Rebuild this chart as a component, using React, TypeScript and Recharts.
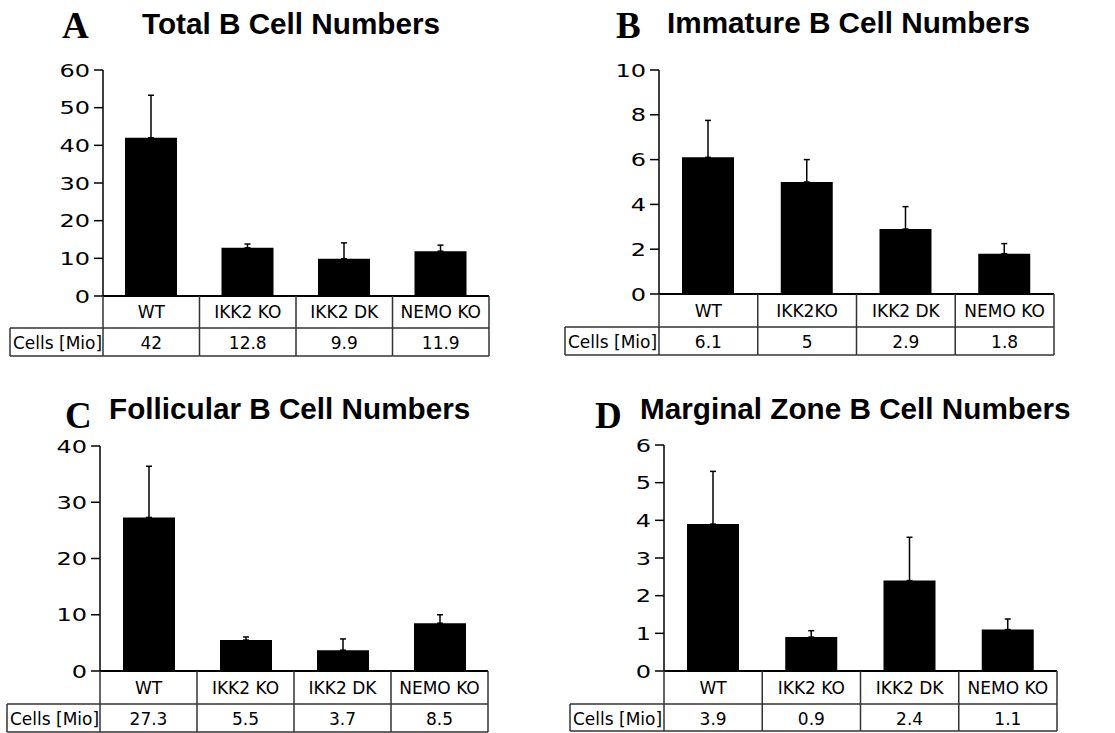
import React from 'react';
import { BarChart, Bar, XAxis, YAxis, ErrorBar } from 'recharts';

// panel A - total B cells
const CATS_A = ['WT', 'IKK2 KO', 'IKK2 DK', 'NEMO KO'];
const VALUES_A = [42, 12.8, 9.9, 11.9];
const ERR_A = [11.3, 1.0, 4.2, 1.6];
const TICKS_A = [0, 10, 20, 30, 40, 50, 60];

// panel B - immature B cells
const CATS_B = ['WT', 'IKK2KO', 'IKK2 DK', 'NEMO KO'];
const VALUES_B = [6.1, 5, 2.9, 1.8];
const ERR_B = [1.65, 1.0, 1.0, 0.45];
const TICKS_B = [0, 2, 4, 6, 8, 10];

// panel C - follicular B cells
const CATS_C = ['WT', 'IKK2 KO', 'IKK2 DK', 'NEMO KO'];
const VALUES_C = [27.3, 5.5, 3.7, 8.5];
const ERR_C = [9.1, 0.55, 2.0, 1.5];
const TICKS_C = [0, 10, 20, 30, 40];

// panel D - marginal zone B cells
const CATS_D = ['WT', 'IKK2 KO', 'IKK2 DK', 'NEMO KO'];
const VALUES_D = [3.9, 0.9, 2.4, 1.1];
const ERR_D = [1.4, 0.17, 1.15, 0.28];
const TICKS_D = [0, 1, 2, 3, 4, 5, 6];

const ROW_HEADER = 'Cells [Mio]';

const SANS = '"DejaVu Sans", Verdana, sans-serif';
const LINE = '#333';

interface Box {
  tableLeft: number;
  plotLeft: number;
  plotRight: number;
  plotTop: number;
  plotBottom: number;
  rowMid: number;
  tableBottom: number;
}

interface PanelProps {
  cats: string[];
  values: number[];
  errs: number[];
  ticks: number[];
  box: Box;
}

const Panel: React.FC<PanelProps> = ({ cats, values, errs, ticks, box }) => {
  const data = cats.map((name, i) => ({
    name,
    value: values[i],
    err: [0, errs[i]],
    label: String(values[i]),
  }));

  const chartLeft = box.tableLeft - 4;
  const chartTop = box.plotTop - 16;
  const width = box.plotRight + 6 - chartLeft;
  const height = box.tableBottom + 4 - chartTop;
  const yAxisW = box.plotLeft - chartLeft;
  const xAxisH = box.tableBottom - box.plotBottom;
  const bw = (box.plotRight - box.plotLeft) / cats.length;

  const y0 = box.plotBottom - chartTop;
  const yMid = box.rowMid - chartTop;
  const yB = box.tableBottom - chartTop;
  const tl = box.tableLeft - chartLeft;

  // the y labels in the original are in a wide face, so stretch them a bit
  const renderYTick = (props: any) => {
    const { x, y, payload } = props;
    return (
      <text
        transform={`translate(${x},${y}) scale(1.3,1)`}
        textAnchor="end"
        dy="0.36em"
        fontSize={18.5}
        fontFamily={SANS}
        fill="#000"
      >
        {payload.value}
      </text>
    );
  };

  // category label + table cell under each bar
  const renderXTick = (props: any) => {
    const { x, index } = props;
    const d = data[index];
    const l = x - bw / 2;
    const r = x + bw / 2;
    return (
      <g>
        <line x1={l} y1={y0} x2={l} y2={yB} stroke={LINE} strokeWidth={1.5} />
        {index === cats.length - 1 && (
          <line x1={r} y1={y0} x2={r} y2={yB} stroke={LINE} strokeWidth={1.5} />
        )}
        <line x1={l} y1={yMid} x2={r} y2={yMid} stroke={LINE} strokeWidth={1.5} />
        <line x1={l} y1={yB} x2={r} y2={yB} stroke={LINE} strokeWidth={1.5} />
        <text x={x} y={(y0 + yMid) / 2 + 6} textAnchor="middle" fontSize={17} fontFamily={SANS} fill="#000">
          {d.name}
        </text>
        <text x={x} y={(yMid + yB) / 2 + 7} textAnchor="middle" fontSize={17} fontFamily={SANS} fill="#000">
          {d.label}
        </text>
        {index === 0 && (
          <g>
            <line x1={tl} y1={yMid} x2={l} y2={yMid} stroke={LINE} strokeWidth={1.5} />
            <line x1={tl} y1={yB} x2={l} y2={yB} stroke={LINE} strokeWidth={1.5} />
            <line x1={tl} y1={yMid} x2={tl} y2={yB} stroke={LINE} strokeWidth={1.5} />
            <text x={tl + 3} y={(yMid + yB) / 2 + 7} fontSize={17} fontFamily={SANS} fill="#000">
              {ROW_HEADER}
            </text>
          </g>
        )}
      </g>
    );
  };

  return (
    <div style={{ position: 'absolute', left: chartLeft, top: chartTop }}>
      <BarChart
        width={width}
        height={height}
        data={data}
        margin={{ top: 16, right: 6, left: 0, bottom: 4 }}
      >
        <XAxis
          dataKey="name"
          interval={0}
          tickLine={false}
          axisLine={{ stroke: '#000', strokeWidth: 2 }}
          height={xAxisH}
          tick={renderXTick}
        />
        <XAxis xAxisId="top" orientation="top" height={0} tick={false} tickLine={false} axisLine={{ stroke: '#a6a6a6', strokeWidth: 2 }} />
        <YAxis
          type="number"
          domain={[0, ticks[ticks.length - 1]]}
          ticks={ticks}
          interval={0}
          width={yAxisW}
          tickSize={9}
          tickMargin={4}
          tickLine={{ stroke: '#000', strokeWidth: 1.5 }}
          axisLine={{ stroke: '#000', strokeWidth: 1.5 }}
          tick={renderYTick}
        />
        <YAxis yAxisId="right" orientation="right" width={0} domain={[0, 1]} tick={false} tickLine={false} axisLine={{ stroke: '#a6a6a6', strokeWidth: 2 }} />
        <Bar dataKey="value" fill="#000" barSize={52} isAnimationActive={false}>
          <ErrorBar dataKey="err" direction="y" width={3} stroke="#000" strokeWidth={1.5} />
        </Bar>
      </BarChart>
    </div>
  );
};

const TITLE_FONT = '"Liberation Sans", Arial, sans-serif';
const LETTER_FONT = '"Liberation Serif", "Times New Roman", serif';

const App: React.FC = () => {
  return (
    <div style={{ position: 'absolute', left: 0, top: 0, width: 1115, height: 733, background: '#fff' }}>
      <svg width={1115} height={733} style={{ position: 'absolute', left: 0, top: 0 }}>
        <text x={62} y={38} fontFamily={LETTER_FONT} fontWeight="bold" fontSize={37}>A</text>
        <text x={142} y={34} fontFamily={TITLE_FONT} fontWeight="bold" fontSize={29.7}>Total B Cell Numbers</text>
        <text x={616} y={38} fontFamily={LETTER_FONT} fontWeight="bold" fontSize={37}>B</text>
        <text x={667} y={33} fontFamily={TITLE_FONT} fontWeight="bold" fontSize={29.7}>Immature B Cell Numbers</text>
        <text x={65} y={428} fontFamily={LETTER_FONT} fontWeight="bold" fontSize={37}>C</text>
        <text x={109} y={419} fontFamily={TITLE_FONT} fontWeight="bold" fontSize={29.7}>Follicular B Cell Numbers</text>
        <text x={595} y={428} fontFamily={LETTER_FONT} fontWeight="bold" fontSize={37}>D</text>
        <text x={640} y={419} fontFamily={TITLE_FONT} fontWeight="bold" fontSize={29.7}>Marginal Zone B Cell Numbers</text>
      </svg>
      <Panel cats={CATS_A} values={VALUES_A} errs={ERR_A} ticks={TICKS_A}
        box={{ tableLeft: 10, plotLeft: 103, plotRight: 489, plotTop: 70, plotBottom: 296, rowMid: 328, tableBottom: 356 }} />
      <Panel cats={CATS_B} values={VALUES_B} errs={ERR_B} ticks={TICKS_B}
        box={{ tableLeft: 565, plotLeft: 659, plotRight: 1054, plotTop: 70, plotBottom: 294, rowMid: 327, tableBottom: 355 }} />
      <Panel cats={CATS_C} values={VALUES_C} errs={ERR_C} ticks={TICKS_C}
        box={{ tableLeft: 7, plotLeft: 100, plotRight: 488, plotTop: 446, plotBottom: 671, rowMid: 704, tableBottom: 732 }} />
      <Panel cats={CATS_D} values={VALUES_D} errs={ERR_D} ticks={TICKS_D}
        box={{ tableLeft: 570, plotLeft: 664, plotRight: 1057, plotTop: 445, plotBottom: 671, rowMid: 704, tableBottom: 731 }} />
    </div>
  );
};

export default App;
